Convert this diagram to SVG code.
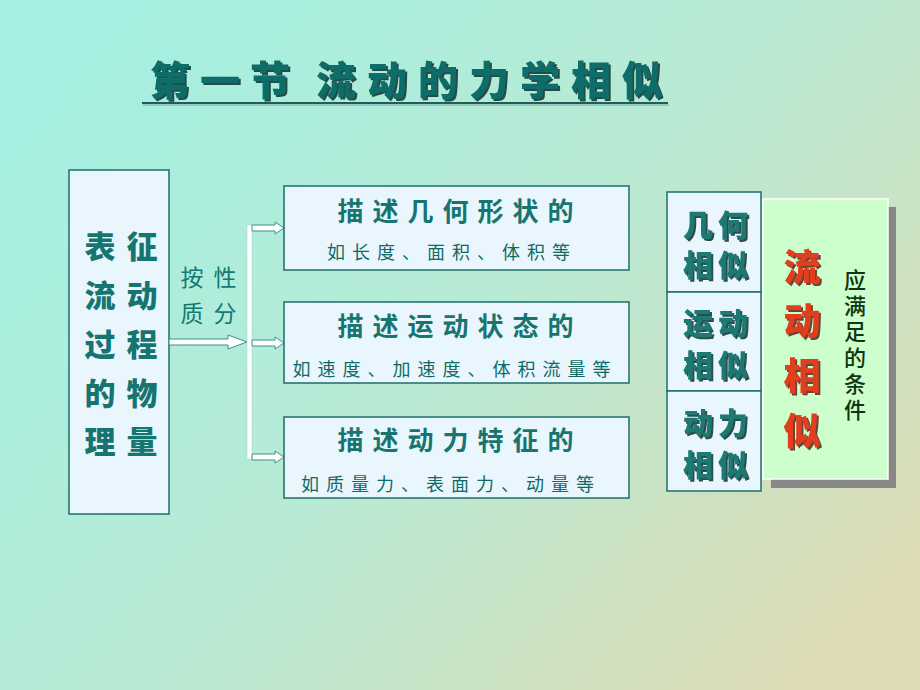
<svg xmlns="http://www.w3.org/2000/svg" width="920" height="690" viewBox="0 0 920 690">
<defs>
<linearGradient id="bg" x1="0" y1="0.15" x2="1" y2="0.85">
<stop offset="0" stop-color="#a4f0e3"/>
<stop offset="0.5" stop-color="#b8ead4"/>
<stop offset="1" stop-color="#dedbb4"/>
</linearGradient>
<filter id="sh" x="-10%" y="-10%" width="130%" height="130%">
<feDropShadow dx="2" dy="2" stdDeviation="0.6" flood-color="#0b2f2d" flood-opacity="0.85"/>
</filter>
<filter id="shr" x="-10%" y="-10%" width="130%" height="130%">
<feDropShadow dx="2" dy="2" stdDeviation="0.6" flood-color="#4a1a10" flood-opacity="0.8"/>
</filter>
<style>
.box{fill:#eaf6fd;stroke:#1d6d69;stroke-width:1.5}
.cjk{font-family:"Noto Sans CJK SC","Noto Sans CJK JP",sans-serif}
.big{font-size:31px;font-weight:900;fill:#167570;text-anchor:middle}
.ttl{font-size:26px;font-weight:700;fill:#177570;text-anchor:middle;letter-spacing:9px}
.sub{font-size:18px;font-weight:400;fill:#0f6a65;text-anchor:middle}
.arr{fill:#ffffff;stroke:#3f8f8a;stroke-width:1}
.rt{font-size:30px;font-weight:900;fill:#1a7a74;text-anchor:middle}
</style>
</defs>
<rect width="920" height="690" fill="url(#bg)"/>

<g id="title">
<text class="cjk" x="150" y="95" font-size="40" font-weight="900" fill="#0f6d67" letter-spacing="10" filter="url(#sh)">第一节</text>
<text class="cjk" x="316" y="95" font-size="40" font-weight="900" fill="#0f6d67" letter-spacing="11" filter="url(#sh)">流动的力学相似</text>
<line x1="142" y1="103" x2="668" y2="103" stroke="#1d5e5a" stroke-width="2"/>
<line x1="143" y1="105" x2="669" y2="105" stroke="#7aa6a2" stroke-width="1"/>
</g>

<g id="left-box">
<rect class="box" x="69" y="170" width="100" height="344"/>
<g class="cjk big">
<text x="100" y="258">表</text><text x="142" y="258">征</text>
<text x="100" y="307">流</text><text x="142" y="307">动</text>
<text x="100" y="356">过</text><text x="142" y="356">程</text>
<text x="100" y="405">的</text><text x="142" y="405">物</text>
<text x="100" y="453">理</text><text x="142" y="453">量</text>
</g>
</g>

<g id="connectors">
<polygon class="arr" points="169,339 228,339 228,335 247,342 228,349 228,345 169,345"/>
<rect x="247" y="225" width="5" height="234" fill="#ffffff" stroke="#9fd3cf" stroke-width="0.5"/>
<polygon class="arr" points="252,225 275,225 275,222 284,228 275,234 275,231 252,231"/>
<polygon class="arr" points="252,340 275,340 275,337 284,343 275,349 275,346 252,346"/>
<polygon class="arr" points="252,454 275,454 275,451 284,457 275,463 275,460 252,460"/>
<g class="cjk" font-size="23" fill="#137a72" text-anchor="middle">
<text x="192" y="286">按</text><text x="225" y="286">性</text>
<text x="192" y="322">质</text><text x="225" y="322">分</text>
</g>
</g>

<g id="box-geometry">
<rect class="box" x="284" y="186" width="345" height="84"/>
<text class="cjk ttl" x="460" y="221">描述几何形状的</text>
<text class="cjk sub" x="452" y="259" letter-spacing="7">如长度、面积、体积等</text>
</g>

<g id="box-motion">
<rect class="box" x="284" y="302" width="345" height="81"/>
<text class="cjk ttl" x="460" y="336">描述运动状态的</text>
<text class="cjk sub" x="455" y="376" letter-spacing="7">如速度、加速度、体积流量等</text>
</g>

<g id="box-dynamics">
<rect class="box" x="284" y="417" width="345" height="81"/>
<text class="cjk ttl" x="460" y="450">描述动力特征的</text>
<text class="cjk sub" x="451" y="491" letter-spacing="7">如质量力、表面力、动量等</text>
</g>

<g id="sim-geometry">
<rect class="box" x="667" y="192" width="94" height="100"/>
<g class="cjk rt" filter="url(#sh)">
<text x="698" y="236">几</text><text x="733" y="236">何</text>
<text x="698" y="276">相</text><text x="733" y="276">似</text>
</g>
</g>
<g id="sim-motion">
<rect class="box" x="667" y="292" width="94" height="99"/>
<g class="cjk rt" filter="url(#sh)">
<text x="698" y="334">运</text><text x="733" y="334">动</text>
<text x="698" y="376">相</text><text x="733" y="376">似</text>
</g>
</g>
<g id="sim-dynamics">
<rect class="box" x="667" y="391" width="94" height="100"/>
<g class="cjk rt" filter="url(#sh)">
<text x="698" y="434">动</text><text x="733" y="434">力</text>
<text x="698" y="476">相</text><text x="733" y="476">似</text>
</g>
</g>

<g id="flow-similarity">
<rect x="771" y="207" width="125" height="281" fill="#878787"/>
<rect x="763" y="199" width="125" height="280" fill="#ccffcc" stroke="#ffffff" stroke-width="1.5"/>
<g class="cjk" font-size="37" font-weight="900" fill="#e23c1c" text-anchor="middle" filter="url(#shr)">
<text x="802" y="281">流</text>
<text x="802" y="335">动</text>
<text x="802" y="390">相</text>
<text x="802" y="445">似</text>
</g>
<text class="cjk" x="855" y="269" font-size="22" font-weight="500" fill="#0f3512" writing-mode="vertical-rl" letter-spacing="4">应满足的条件</text>
</g>
</svg>
